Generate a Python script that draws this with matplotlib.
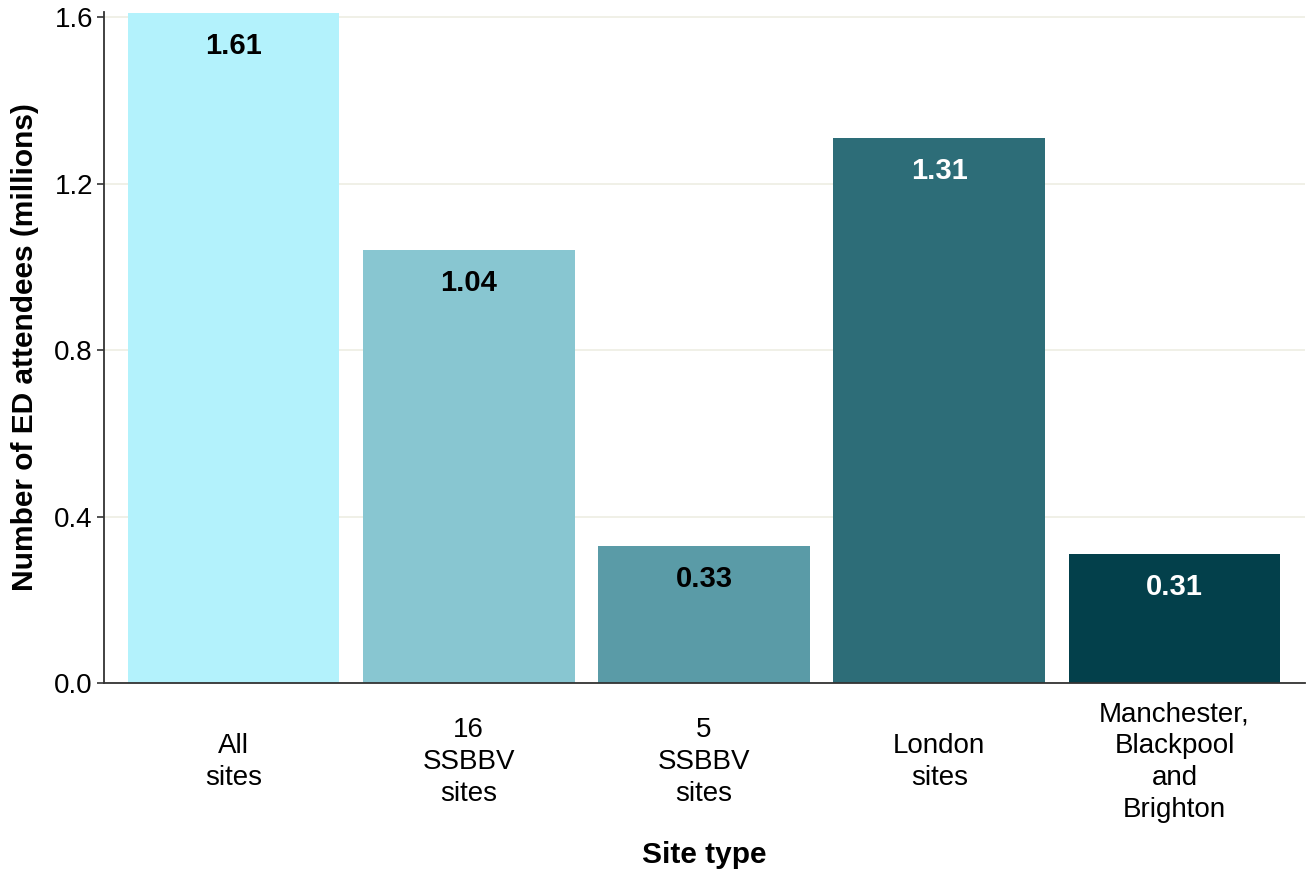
import matplotlib.pyplot as plt
import numpy as np

plt.rcParams['font.family'] = ['Liberation Sans', 'DejaVu Sans']

# ED attendees by site type
site_types = ["All\nsites", "16\nSSBBV\nsites", "5\nSSBBV\nsites", "London\nsites",
              "Manchester,\nBlackpool\nand\nBrighton"]
attendees = [1.61, 1.04, 0.33, 1.31, 0.31]
bar_colours = ["#B3F2FC", "#88C6D1", "#5A9BA7", "#2D6D78", "#03404B"]
label_colours = ["black", "black", "black", "white", "white"]

fig = plt.figure(figsize=(13.07, 8.72), dpi=100)
ax = fig.add_axes([0.0796, 0.2167, 0.9189, 0.7695])

x = np.arange(len(site_types))
ax.bar(x, attendees, width=0.9, color=bar_colours, zorder=2)

for xi, v, c in zip(x, attendees, label_colours):
    ax.text(xi, v - 0.08, f"{v:.2f}", ha="center", va="center",
            fontsize=21, fontweight="bold", color=c, zorder=3)

ax.set_xlim(-0.55, 4.555)
ax.set_ylim(0, 1.612)
ax.set_yticks([0.0, 0.4, 0.8, 1.2, 1.6])
ax.set_yticklabels(["0.0", "0.4", "0.8", "1.2", "1.6"])
ax.yaxis.grid(True, color="#EDEDE3", linewidth=1.2, zorder=0)
ax.set_axisbelow(True)

ax.set_xticks(x)
ax.set_xticklabels(site_types, fontsize=20, va="center", linespacing=1.3)
ax.tick_params(axis="x", length=0, pad=57)
ax.tick_params(axis="y", labelsize=20, length=5, width=1.2, color="#333333", pad=3)

for side in ["top", "right"]:
    ax.spines[side].set_visible(False)
for side in ["left", "bottom"]:
    ax.spines[side].set_color("#333333")
    ax.spines[side].set_linewidth(1.3)

ax.set_xlabel("Site type", fontsize=21.5, fontweight="bold")
ax.set_ylabel("Number of ED attendees (millions)", fontsize=21.5, fontweight="bold")
ax.xaxis.set_label_coords(0.5, -0.235)
ax.yaxis.set_label_coords(-0.054, 0.5)

fig.savefig("out.png", dpi=100)
